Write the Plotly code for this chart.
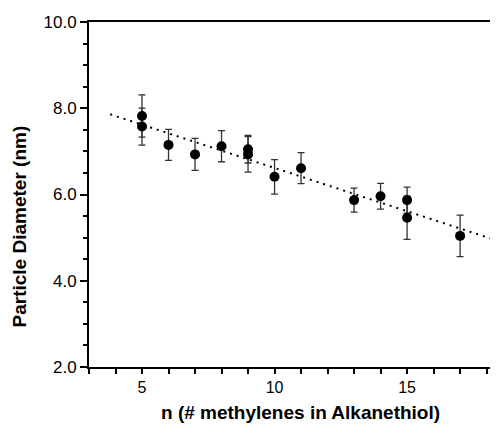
import plotly.graph_objects as go

# data
n_vals = [5, 5, 6, 7, 8, 9, 9, 10, 11, 13, 14, 15, 15, 17]
diameter = [7.82, 7.575, 7.15, 6.93, 7.12, 7.05, 6.93, 6.41, 6.61, 5.87, 5.96, 5.87, 5.46, 5.04]
diameter_err = [0.49, 0.43, 0.36, 0.37, 0.36, 0.32, 0.41, 0.40, 0.36, 0.28, 0.30, 0.30, 0.50, 0.48]

fit_n = [3.8, 18.4]
fit_d = [7.86, 4.93]

x_tickvals = list(range(3, 19))
x_ticktext = [str(v) if v in (5, 10, 15) else "" for v in x_tickvals]

x_title = "n (# methylenes in Alkanethiol)"
y_title = "Particle Diameter (nm)"

FONT = "Liberation Sans, Arial, sans-serif"

fig = go.Figure()
fig.add_trace(go.Scatter(
    x=fit_n, y=fit_d, mode="lines",
    line=dict(color="black", width=2, dash="2px,5px"),
    showlegend=False, hoverinfo="skip",
))
fig.add_trace(go.Scatter(
    x=n_vals, y=diameter, mode="markers",
    marker=dict(color="black", size=10, symbol="circle"),
    error_y=dict(type="data", array=diameter_err, visible=True,
                 color="#333333", thickness=1.3, width=3.5),
    showlegend=False,
))

# page body has an 8px margin, so the figure is sized to fill the rest of the window
fig.update_layout(
    width=490, height=418,
    margin=dict(l=81, r=0, t=14, b=59, autoexpand=False),
    paper_bgcolor="white", plot_bgcolor="white",
    font=dict(family=FONT, color="black"),
)
fig.update_xaxes(
    range=[3, 18.43],
    tickvals=x_tickvals, ticktext=x_ticktext,
    ticks="outside", ticklen=5, tickwidth=1.5, tickcolor="black",
    showline=True, linewidth=2, linecolor="black", mirror=True,
    showgrid=False, zeroline=False,
    tickfont=dict(size=16, family=FONT),
)
fig.update_yaxes(
    range=[2, 10],
    tick0=2, dtick=2, tickformat=".1f",
    ticks="outside", ticklen=7, tickwidth=1.5, tickcolor="black",
    minor=dict(dtick=0.5, tick0=2, ticks="outside", ticklen=4, tickwidth=1.5, tickcolor="black", showgrid=False),
    showline=True, linewidth=2, linecolor="black",
    showgrid=False, zeroline=False,
    tickfont=dict(size=17, family=FONT),
)
fig.add_annotation(
    text="<b>" + x_title + "</b>", xref="paper", yref="paper",
    x=0.516, y=-0.132, xanchor="center", yanchor="middle",
    showarrow=False, font=dict(size=19, family=FONT, color="black"),
)
fig.add_annotation(
    text="<b>" + y_title + "</b>", xref="paper", yref="paper",
    x=-0.169, y=0.407, xanchor="center", yanchor="middle", textangle=-90,
    showarrow=False, font=dict(size=19, family=FONT, color="black"),
)

fig.write_html("out.html")
